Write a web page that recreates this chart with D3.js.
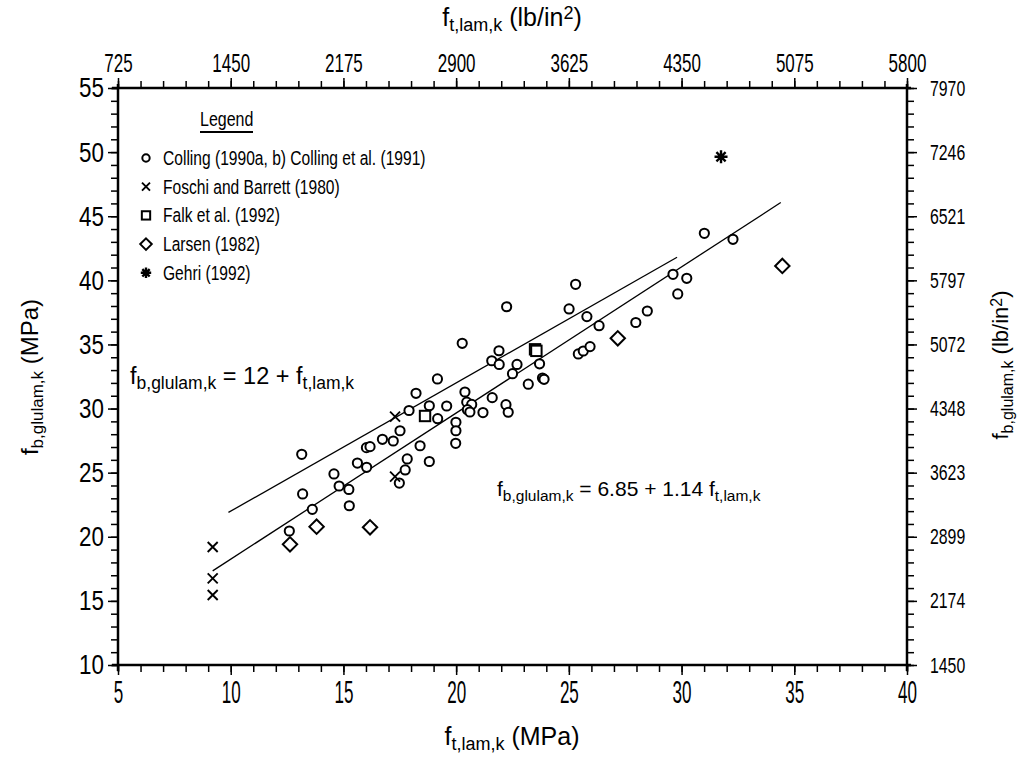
<!DOCTYPE html>
<html>
<head>
<meta charset="utf-8">
<script src="https://cdn.jsdelivr.net/npm/d3@7"></script>
<style>
  body { margin: 0; background: #fff; }
  text { fill: #000; }
</style>
</head>
<body>
<svg id="chart" width="1022" height="766"></svg>
<script>
// ---- data (MPa) ----
const colling = [
  [13.15,26.43],[19.17,32.31],[18.22,31.19],[17.91,29.85],[18.81,30.22],[19.18,29.21],
  [19.58,30.20],[17.51,28.27],[17.21,27.47],[16.73,27.60],[16.02,26.95],[16.18,27.03],
  [15.62,25.75],[16.03,25.42],[18.40,27.10],[18.81,25.87],[17.83,26.07],[17.74,25.21],
  [17.48,24.19],[14.58,24.90],[14.81,23.96],[15.24,23.69],[13.19,23.34],[15.26,22.42],
  [13.62,22.14],[12.60,20.45],[25.30,39.69],[22.24,37.94],[25.01,37.77],[25.80,37.17],
  [26.34,36.46],[27.97,36.71],[20.27,35.09],[21.90,34.51],[21.58,33.73],[21.91,33.44],
  [22.70,33.44],[23.70,33.49],[22.50,32.72],[25.42,34.26],[25.64,34.49],[25.94,34.83],
  [23.83,32.38],[23.90,32.28],[23.20,31.90],[20.39,31.29],[21.60,30.85],[20.47,30.50],
  [20.69,30.32],[20.50,29.91],[20.61,29.73],[21.19,29.69],[22.21,30.30],[22.31,29.71],
  [19.99,28.93],[19.99,28.27],[19.98,27.29],[31.01,43.67],[32.28,43.20],[29.62,40.47],
  [30.23,40.16],[29.83,38.94],[28.48,37.61]
];
const foschi = [[9.20,19.2],[9.20,16.76],[9.20,15.46],[17.29,29.37],[17.29,24.69]];
const falk = [[18.62,29.42],[23.50,34.62],[23.56,34.50]];
const larsen = [[12.63,19.41],[13.81,20.79],[16.18,20.74],[27.17,35.48],[34.47,41.12]];
const gehri = [[31.75,49.64]];

// fitted lines: intercept, slope, x range
const fitIntercept = [12, 6.85];
const fitSlope = [1, 1.14];
const fitFrom = [9.9, 9.2];
const fitTo = [29.8, 34.4];

const xMajor = [5, 10, 15, 20, 25, 30, 35, 40];
const yMajor = [10, 15, 20, 25, 30, 35, 40, 45, 50, 55];
const topLabels = ["725", "1450", "2175", "2900", "3625", "4350", "5075", "5800"];
const rightLabels = ["1450", "2174", "2899", "3623", "4348", "5072", "5797", "6521", "7246", "7970"];

const legendNames = [
  "Colling (1990a, b) Colling et al. (1991)",
  "Foschi and Barrett (1980)",
  "Falk et al. (1992)",
  "Larsen (1982)",
  "Gehri (1992)"
];
const legendShapes = ["circle", "cross", "square", "diamond", "star"];

// ---- layout ----
const plotL = 118, plotR = 907, plotT = 88, plotB = 665;
const svg = d3.select("#chart");

const x = d3.scaleLinear().domain([5, 40]).range([plotL, plotR]);
const y = d3.scaleLinear().domain([10, 55]).range([plotB, plotT]);

const sans = "'Liberation Sans', Arial, sans-serif";

function styleAxis(g) {
  g.selectAll(".domain").remove();
  g.selectAll("line").attr("stroke", "#000").attr("stroke-width", 1.5);
}

// minor ticks every 1 MPa
svg.append("g").attr("transform", `translate(0,${plotB})`)
  .call(d3.axisBottom(x).tickValues(d3.range(5, 41, 1)).tickSize(7).tickFormat(""))
  .call(styleAxis);
svg.append("g").attr("transform", `translate(0,${plotT})`)
  .call(d3.axisTop(x).tickValues(d3.range(5, 41, 1)).tickSize(7).tickFormat(""))
  .call(styleAxis);
svg.append("g").attr("transform", `translate(${plotL},0)`)
  .call(d3.axisLeft(y).tickValues(d3.range(10, 56, 1)).tickSize(7).tickFormat(""))
  .call(styleAxis);
svg.append("g").attr("transform", `translate(${plotR},0)`)
  .call(d3.axisRight(y).tickValues(d3.range(10, 56, 1)).tickSize(7).tickFormat(""))
  .call(styleAxis);

// major ticks + labels (squeezed to mimic the condensed typeface)
const bx = svg.append("g").attr("transform", `translate(0,${plotB})`)
  .call(d3.axisBottom(x).tickValues(xMajor).tickSize(10).tickPadding(6).tickFormat(d3.format("d")))
  .call(styleAxis);
bx.selectAll("text").attr("font-family", sans).attr("font-size", 31)
  .attr("transform", "scale(0.55,1)");

const tx = svg.append("g").attr("transform", `translate(0,${plotT})`)
  .call(d3.axisTop(x).tickValues(xMajor).tickSize(10).tickPadding(6)
    .tickFormat((d, i) => topLabels[i]))
  .call(styleAxis);
tx.selectAll("text").attr("font-family", sans).attr("font-size", 25)
  .attr("transform", "scale(0.68,1)");

const ly = svg.append("g").attr("transform", `translate(${plotL},0)`)
  .call(d3.axisLeft(y).tickValues(yMajor).tickSize(10).tickFormat(d3.format("d")))
  .call(styleAxis);
ly.selectAll("text").attr("font-family", sans).attr("font-size", 28)
  .attr("x", -14 / 0.8).attr("transform", "scale(0.8,1)");

const ry = svg.append("g").attr("transform", `translate(${plotR},0)`)
  .call(d3.axisRight(y).tickValues(yMajor).tickSize(10)
    .tickFormat((d, i) => rightLabels[i]))
  .call(styleAxis);
ry.selectAll("text").attr("font-family", sans).attr("font-size", 22)
  .attr("x", 23 / 0.72).attr("transform", "scale(0.72,1)");

// frame
const frame = svg.append("g").attr("stroke", "#000").attr("stroke-width", 2.5);
frame.append("line").attr("x1", plotL - 6).attr("x2", plotR + 4).attr("y1", plotB).attr("y2", plotB);
frame.append("line").attr("x1", plotL - 6).attr("x2", plotR + 4).attr("y1", plotT).attr("y2", plotT);
frame.append("line").attr("x1", plotL).attr("x2", plotL).attr("y1", plotT - 4).attr("y2", plotB + 6);
frame.append("line").attr("x1", plotR).attr("x2", plotR).attr("y1", plotT - 4).attr("y2", plotB + 6);

// text helper with subscripts
function richText(g, parts, size, subSize) {
  const t = g.append("text").attr("font-family", sans).attr("font-size", size);
  parts.forEach(p => {
    const s = t.append("tspan").text(p.t);
    if (p.sub) s.attr("font-size", subSize).attr("baseline-shift", "-30%");
    if (p.sup) s.attr("font-size", subSize).attr("baseline-shift", "40%");
  });
  return t;
}

// axis titles
richText(svg.append("g"), [{t: "f"}, {t: "t,lam,k", sub: 1}, {t: " (MPa)"}], 25, 18)
  .attr("x", 512).attr("y", 745).attr("text-anchor", "middle");
richText(svg.append("g"), [{t: "f"}, {t: "t,lam,k", sub: 1}, {t: " (lb/in"}, {t: "2", sup: 1}, {t: ")"}], 25, 18)
  .attr("x", 512).attr("y", 26).attr("text-anchor", "middle");
richText(svg.append("g").attr("transform", "translate(38,377) rotate(-90)"),
  [{t: "f"}, {t: "b,glulam,k", sub: 1}, {t: " (MPa)"}], 24, 17)
  .attr("text-anchor", "middle");
richText(svg.append("g").attr("transform", "translate(1008,365) rotate(-90)"),
  [{t: "f"}, {t: "b,glulam,k", sub: 1}, {t: " (lb/in"}, {t: "2", sup: 1}, {t: ")"}], 22, 16)
  .attr("text-anchor", "middle");

// fit lines
const fits = fitIntercept.map((a, i) => [
  [fitFrom[i], a + fitSlope[i] * fitFrom[i]],
  [fitTo[i], a + fitSlope[i] * fitTo[i]]
]);
const line = d3.line().x(d => x(d[0])).y(d => y(d[1]));
svg.append("g").selectAll("path").data(fits).join("path")
  .attr("d", line).attr("fill", "none").attr("stroke", "#000").attr("stroke-width", 1.3);

// marker drawing
function marker(g, shape, s) {
  if (shape === "circle") {
    g.append("circle").attr("r", 4.6 * s).attr("fill", "#fff").attr("stroke", "#000").attr("stroke-width", 2);
  } else if (shape === "square") {
    g.append("rect").attr("x", -5.2 * s).attr("y", -5.2 * s).attr("width", 10.4 * s).attr("height", 10.4 * s)
      .attr("fill", "#fff").attr("stroke", "#000").attr("stroke-width", 2);
  } else if (shape === "diamond") {
    const r = 7.2 * s;
    g.append("path").attr("d", `M0,${-r}L${r},0L0,${r}L${-r},0Z`)
      .attr("fill", "#fff").attr("stroke", "#000").attr("stroke-width", 2);
  } else if (shape === "cross") {
    const r = 5 * s;
    g.append("path").attr("d", `M${-r},${-r}L${r},${r}M${-r},${r}L${r},${-r}`)
      .attr("stroke", "#000").attr("stroke-width", 1.9);
  } else if (shape === "star") {
    const r = 6.5 * s;
    let d = "";
    d3.range(8).forEach(k => {
      const a = k * Math.PI / 4;
      d += `M0,0L${r * Math.cos(a)},${r * Math.sin(a)}`;
    });
    g.append("path").attr("d", d).attr("stroke", "#000").attr("stroke-width", 2.4);
  }
}

function plotSeries(data, shape) {
  svg.append("g").selectAll("g").data(data).join("g")
    .attr("transform", d => `translate(${x(d[0])},${y(d[1])})`)
    .each(function () { marker(d3.select(this), shape, 1); });
}
plotSeries(colling, "circle");
plotSeries(foschi, "cross");
plotSeries(falk, "square");
plotSeries(larsen, "diamond");
plotSeries(gehri, "star");

// legend
const lg = svg.append("g");
lg.append("g").attr("transform", "translate(200,126) scale(0.8,1)")
  .append("text").attr("font-family", sans).attr("font-size", 20).text("Legend");
lg.append("line").attr("x1", 200).attr("x2", 253).attr("y1", 132).attr("y2", 132)
  .attr("stroke", "#000").attr("stroke-width", 1.8);
legendNames.forEach((name, i) => {
  const yy = 158 + i * 28.7;
  marker(lg.append("g").attr("transform", `translate(146,${yy})`), legendShapes[i], 0.8);
  lg.append("g").attr("transform", `translate(163,${yy + 7}) scale(0.8,1)`)
    .append("text").attr("font-family", sans).attr("font-size", 19.5).text(name);
});

// equations
richText(svg.append("g"),
  [{t: "f"}, {t: "b,glulam,k", sub: 1}, {t: " = 12 + f"}, {t: "t,lam,k", sub: 1}], 23.5, 17.5)
  .attr("x", 130).attr("y", 384);
richText(svg.append("g"),
  [{t: "f"}, {t: "b,glulam,k", sub: 1}, {t: " = 6.85 + 1.14 f"}, {t: "t,lam,k", sub: 1}], 21, 15.5)
  .attr("x", 497).attr("y", 496);
</script>
</body>
</html>
